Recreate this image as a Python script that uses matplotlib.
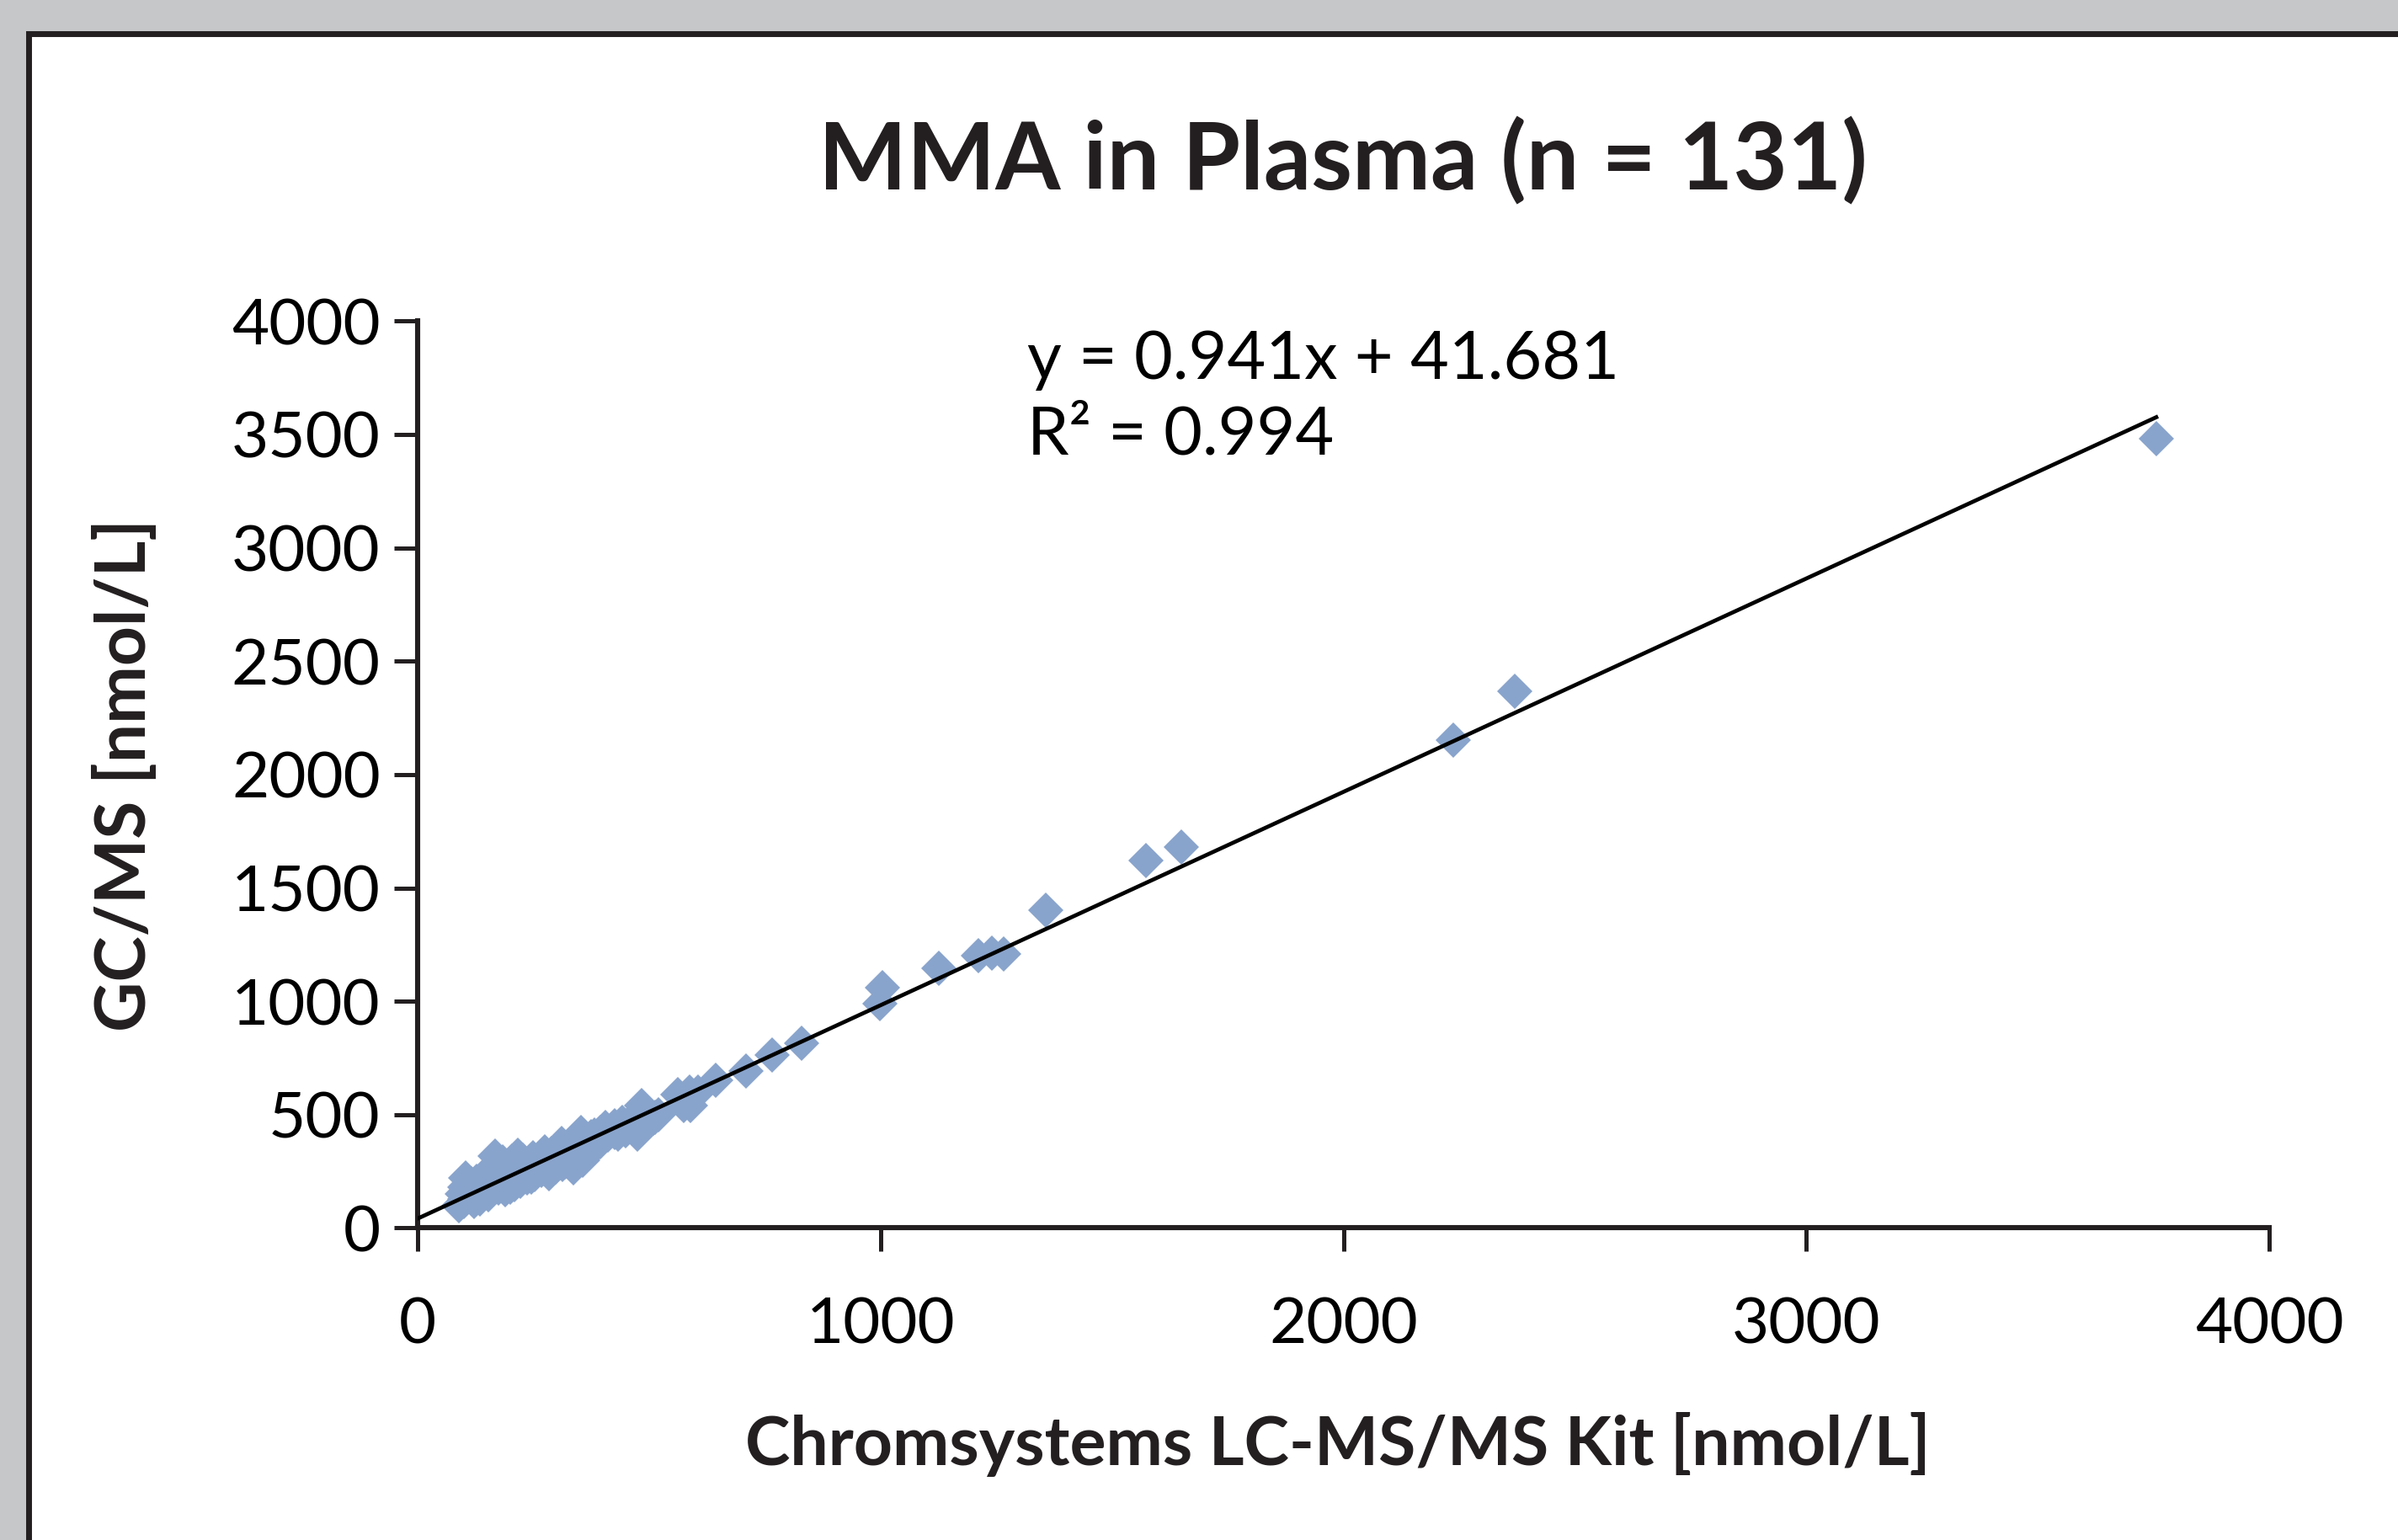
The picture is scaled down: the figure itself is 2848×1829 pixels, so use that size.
import matplotlib
matplotlib.use("Agg")
import matplotlib.pyplot as plt
from matplotlib.patches import Rectangle
import numpy as np

# values (LC-MS/MS kit vs GC/MS, nmol/L)
lcms = [3756, 2370, 2238, 1650, 1574, 1356, 1212, 1241, 1265, 1125,
        1003, 999, 830, 765, 710, 643, 606, 587, 562, 574,
        589, 483, 510, 474,
        104, 168, 216, 247, 274, 310, 353, 374, 404, 89,
        122, 153, 189, 222, 289, 337, 371, 425, 449, 474,
        513, 101,
        96, 102, 107, 113, 117, 121, 128, 131, 137, 142,
        146, 151, 157, 162, 166, 171, 174, 179, 183, 187,
        192, 196, 201, 204, 209, 213, 218, 223, 227, 231,
        236, 240, 244, 249, 253, 258, 262, 267, 271, 276,
        281, 284, 289, 293, 298, 302, 307, 312, 316, 321,
        327, 332, 336, 341, 347, 352, 358, 363, 368, 376,
        382, 388, 394, 399, 405, 411, 418, 426, 433, 441,
        452, 463, 478, 492, 520,
        99, 134, 158, 199, 246, 286, 319, 356, 395, 437]
gcms = [3482, 2368, 2152, 1680, 1619, 1403, 1201, 1213, 1209, 1146,
        1061, 990, 814, 762, 694, 650, 601, 601, 589, 539,
        540, 539, 484, 415,
        221, 316, 320, 304, 335, 372, 422, 403, 434, 100,
        118, 146, 170, 205, 254, 267, 354, 422, 428, 440,
        490, 180,
        150, 128, 175, 140, 196, 160, 205, 150, 182, 230,
        165, 210, 248, 190, 226, 270, 175, 215, 290, 240,
        205, 262, 230, 295, 190, 252, 275, 235, 300, 262,
        220, 282, 250, 310, 236, 268, 295, 255, 318, 280,
        300, 240, 330, 295, 268, 340, 310, 282, 352, 325,
        300, 365, 338, 310, 380, 348, 330, 395, 362, 385,
        410, 370, 420, 395, 445, 410, 430, 452, 415, 465,
        455, 478, 470, 505, 500,
        118, 128, 160, 180, 225, 285, 290, 300, 380, 440]

slope = 0.941
intercept = 41.681
r2 = 0.994

x_ticks = [0, 1000, 2000, 3000, 4000]
y_ticks = [0, 500, 1000, 1500, 2000, 2500, 3000, 3500, 4000]

ink = '#231f20'
font = 'Lato'

fig = plt.figure(figsize=(14.24, 9.145), dpi=200)
fig.patch.set_facecolor('#c6c7c9')

# white panel with a dark frame, running off the right and bottom edges
panel = Rectangle((33.5 / 2848, -0.05), 1.1, 1 - 39.5 / 1829 + 0.05,
                  transform=fig.transFigure, facecolor='white',
                  edgecolor=ink, linewidth=2.5, zorder=0)
fig.add_artist(panel)

ax = fig.add_axes([0.1742, 0.2026, 0.7721, 0.5889])
ax.set_facecolor('none')

ax.plot(lcms, gcms, linestyle='none', marker='D', markersize=10.5,
        markerfacecolor='#89a4cc', markeredgewidth=0, zorder=2)

fit_x = np.array([0, max(lcms)])
ax.plot(fit_x, slope * fit_x + intercept, color='black', linewidth=1.7, zorder=3)

ax.set_xlim(0, 4000)
ax.set_ylim(0, 4000)
ax.set_xticks(x_ticks)
ax.set_yticks(y_ticks)

for side in ['top', 'right']:
    ax.spines[side].set_visible(False)
for side in ['left', 'bottom']:
    ax.spines[side].set_color(ink)
    ax.spines[side].set_linewidth(2.2)

ax.tick_params(axis='both', direction='out', length=10, width=1.8, color=ink,
               labelsize=27.5, labelcolor='black')
ax.tick_params(axis='x', pad=19)
ax.tick_params(axis='y', pad=6)
for lab in ax.get_xticklabels() + ax.get_yticklabels():
    lab.set_family(font)
    lab.set_fontweight('normal')

fig.text(0.56, 0.8956, 'MMA in Plasma (n = 131)', ha='center', va='center',
         fontsize=40, fontweight='bold', family=font, color=ink)
fig.text(0.0523, 0.4966, 'GC/MS [nmol/L]', rotation=90, ha='center', va='center',
         fontsize=29.5, fontweight='bold', family=font, color=ink)
fig.text(0.558, 0.0618, 'Chromsystems LC-MS/MS Kit [nmol/L]', ha='center', va='center',
         fontsize=29, fontweight='bold', family=font, color=ink)

fig.text(0.4284, 0.754, f'y = {slope}x + {intercept}', ha='left', va='baseline',
         fontsize=28.5, fontweight='normal', family=font, color='black')
fig.text(0.4284, 0.705, f'R\u00b2 = {r2}', ha='left', va='baseline',
         fontsize=28.5, fontweight='normal', family=font, color='black')

fig.savefig('out.png', dpi=200, facecolor=fig.get_facecolor())
